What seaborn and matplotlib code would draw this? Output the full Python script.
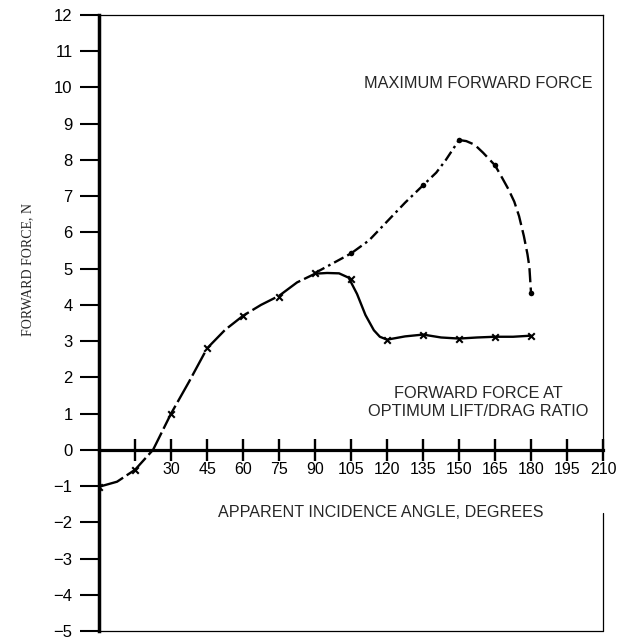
import matplotlib
matplotlib.use("Agg")
import matplotlib.pyplot as plt
import seaborn as sns

# ---- data ----
# optimum L/D curve: traced shape and measured (x-marked) points
opt_angle_dashed = [0, 7.5, 15, 22.5, 30, 37.5, 45, 52.5, 60, 67.5, 75, 82.5, 90]
opt_force_dashed = [-1.02, -0.88, -0.55, 0.0, 1.0, 1.88, 2.8, 3.31, 3.7, 4.0, 4.25, 4.62, 4.86]
opt_angle_solid = [90, 95, 100, 104, 107.5, 111, 114.5, 117, 120, 127.5, 135, 142.5, 150, 157.5, 165, 172.5, 180]
opt_force_solid = [4.86, 4.88, 4.87, 4.75, 4.3, 3.72, 3.3, 3.12, 3.04, 3.13, 3.18, 3.1, 3.07, 3.1, 3.12, 3.12, 3.15]
opt_marker_angle = [0, 15, 30, 45, 60, 75, 90, 105, 120, 135, 150, 165, 180]
opt_marker_force = [-1.02, -0.55, 1.0, 2.82, 3.7, 4.23, 4.88, 4.72, 3.04, 3.18, 3.07, 3.12, 3.15]

# maximum forward force curve
max_angle_rise = [90, 97.5, 105, 112.5, 120, 127.5, 135, 140.5, 144.5, 147.5, 150]
max_force_rise = [4.88, 5.15, 5.42, 5.78, 6.3, 6.82, 7.3, 7.65, 8.0, 8.3, 8.55]
max_angle_fall = [150, 153, 156.5, 160, 165, 168, 170.5, 173, 175, 177, 178.5, 179.3, 180]
max_force_fall = [8.55, 8.52, 8.42, 8.2, 7.85, 7.5, 7.2, 6.85, 6.45, 5.9, 5.4, 5.05, 4.32]
max_marker_angle = [105, 135, 150, 165, 180]
max_marker_force = [5.42, 7.3, 8.55, 7.85, 4.32]

x_ticks = [15, 30, 45, 60, 75, 90, 105, 120, 135, 150, 165, 180, 195, 210]
x_tick_labels = ["", "30", "45", "60", "75", "90", "105", "120", "135", "150", "165", "180", "195", "210"]
y_ticks = list(range(-5, 13))

sns.set_style("white")
plt.rcParams["font.family"] = ["Liberation Sans", "DejaVu Sans"]

fig = plt.figure(figsize=(6.31, 6.38), dpi=100)
ax = fig.add_axes([0.157, 0.011, 0.7987, 0.9655])

lw = 1.7
sns.lineplot(x=opt_angle_dashed, y=opt_force_dashed, ax=ax, color="black", lw=lw,
             linestyle=(0, (11, 1.8)), estimator=None, sort=False)
sns.lineplot(x=opt_angle_solid, y=opt_force_solid, ax=ax, color="black", lw=lw,
             estimator=None, sort=False)
sns.scatterplot(x=opt_marker_angle, y=opt_marker_force, ax=ax, marker="x", s=22,
                color="black", linewidth=1.5, zorder=4)

sns.lineplot(x=max_angle_rise, y=max_force_rise, ax=ax, color="black", lw=lw,
             linestyle=(0, (4.5, 1.8, 1.1, 1.8)), estimator=None, sort=False)
sns.lineplot(x=max_angle_fall, y=max_force_fall, ax=ax, color="black", lw=lw,
             linestyle=(0, (6, 2.2)), estimator=None, sort=False)
sns.scatterplot(x=max_marker_angle, y=max_marker_force, ax=ax, marker="o", s=16,
                color="black", linewidth=0, zorder=4)

ax.set_xlim(0, 210)
ax.set_ylim(-5, 12)

# axes styling
ax.spines["bottom"].set_position(("data", 0))
ax.spines["bottom"].set_linewidth(2.3)
ax.spines["left"].set_linewidth(2.5)
ax.spines["top"].set_linewidth(0.9)
ax.spines["right"].set_linewidth(0.9)
ax.spines["right"].set_bounds(0, 12)
ax.axvline(210, ymin=0, ymax=(5 - 1.75) / 17, color="black", lw=0.9, clip_on=False)
ax.axhline(-5, color="black", lw=0.9, clip_on=False)
for s in ax.spines.values():
    s.set_color("black")

ax.set_xticks(x_ticks)
ax.set_xticklabels(x_tick_labels)
ax.set_yticks(y_ticks)
ax.set_yticklabels([str(v).replace("-", "\u2212") for v in y_ticks])
ax.tick_params(axis="x", direction="inout", length=16, width=1.7, pad=1,
               labelsize=11.5, colors="black", bottom=True)
ax.tick_params(axis="y", direction="out", length=14, width=1.5, pad=5,
               labelsize=12, colors="black", left=True)
ax.set_xlabel("")
ax.set_ylabel("")

ax.text(205.5, 10.1, "MAXIMUM FORWARD FORCE", ha="right", va="center", fontsize=11.7)
ax.text(158, 1.31, "FORWARD FORCE AT\nOPTIMUM LIFT/DRAG RATIO", ha="center", va="center",
        fontsize=11.8, multialignment="center", linespacing=1.3)
ax.text(117.5, -1.74, "APPARENT INCIDENCE ANGLE, DEGREES", ha="center", va="center",
        fontsize=11.6)

fig.text(28 / 631, 1 - 270 / 638, "FORWARD FORCE, N", rotation=90, ha="center",
         va="center", fontsize=10, family=["Liberation Serif", "DejaVu Serif"])

fig.savefig("out.png", dpi=100)
